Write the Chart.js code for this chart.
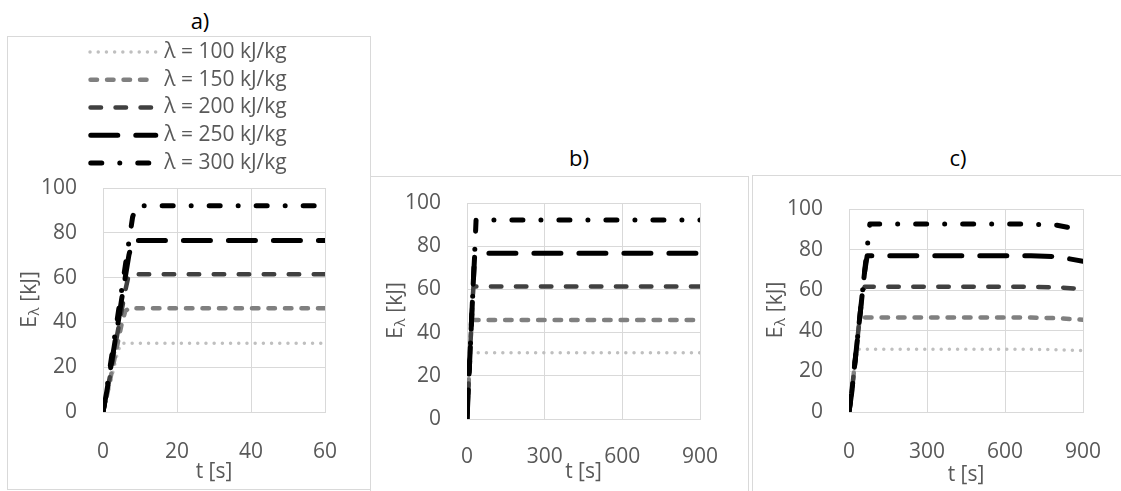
<!DOCTYPE html>
<html>
<head>
<meta charset="utf-8">
<script src="https://cdn.jsdelivr.net/npm/chart.js@4.4.1/dist/chart.umd.min.js"></script>
<style>
  html, body { margin: 0; padding: 0; background: #fff; overflow: hidden; }
  body { width: 1121px; height: 491px; position: relative; font-family: 'Open Sans', sans-serif; }
  .box { position: absolute; border: 1px solid #d9d9d9; box-sizing: border-box; }
  .ttl { position: absolute; transform: translate(-50%, -50%); font-size: 22px; color: #000; white-space: nowrap; }
  canvas { position: absolute; }
</style>
</head>
<body>
<div class="box" style="left:7px;top:36px;width:364px;height:454px"></div>
<div class="box" style="left:370px;top:176px;width:379px;height:330px"></div>
<div class="box" style="left:752px;top:175px;width:420px;height:330px"></div>

<div class="ttl" style="left:200px;top:20px">a)</div>
<div class="ttl" style="left:579px;top:157px">b)</div>
<div class="ttl" style="left:958px;top:157px">c)</div>

<canvas id="chartA" width="361" height="456" style="left:8px;top:33px"></canvas>
<canvas id="chartB" width="376" height="327" style="left:372px;top:164px"></canvas>
<canvas id="chartC" width="380" height="321" style="left:753px;top:170px"></canvas>

<script>
// series labels
const seriesLabels = ['λ = 100 kJ/kg', 'λ = 150 kJ/kg', 'λ = 200 kJ/kg', 'λ = 250 kJ/kg', 'λ = 300 kJ/kg'];
const yTicks = [0, 20, 40, 60, 80, 100];
const xTicksA = [0, 20, 40, 60];
const xTicksBC = [0, 300, 600, 900];
const xTitle = 't [s]';
const yTitle = ['E', 'λ', ' [kJ]']; // E with subscript lambda

// a) t [s] and E [kJ] for each lambda
const tA = [0, 1, 2, 3, 4, 5, 6, 7, 8, 9, 10, 60];
const eA100 = [0, 6, 13, 20, 27, 30.7, 30.7, 30.7, 30.7, 30.7, 30.7, 30.7];
const eA150 = [0, 7, 15, 23, 31, 39, 45, 46.3, 46.3, 46.3, 46.3, 46.3];
const eA200 = [0, 8, 17, 27, 36, 45, 54, 61.5, 61.5, 61.5, 61.5, 61.5];
const eA250 = [0, 9, 19, 29, 39, 50, 60, 70, 76.6, 76.6, 76.6, 76.6];
const eA300 = [0, 10, 21, 32, 43, 54, 65, 76, 87, 92.1, 92.1, 92.1];

// b)
const tB = [0, 5, 10, 15, 20, 25, 30, 35, 900];
const eB100 = [0, 13, 26, 30.7, 30.7, 30.7, 30.7, 30.7, 30.7];
const eB150 = [0, 13, 26, 39, 45.8, 45.8, 45.8, 45.8, 45.8];
const eB200 = [0, 13, 26, 39, 52, 61.3, 61.3, 61.3, 61.3];
const eB250 = [0, 13, 26, 39, 52, 65, 76.7, 76.7, 76.7];
const eB300 = [0, 13, 26, 39, 52, 65, 78, 92.1, 92.1];

// c)
const tC = [0, 10, 20, 30, 40, 50, 60, 70, 80, 700, 800, 900];
const eC100 = [0, 9, 21, 30.9, 30.9, 30.9, 30.9, 30.9, 30.9, 30.9, 30.7, 30.2];
const eC150 = [0, 9, 21, 33, 45, 46.5, 46.5, 46.5, 46.5, 46.5, 46.2, 45.4];
const eC200 = [0, 9, 21, 33, 45, 57, 61.7, 61.7, 61.7, 61.7, 61.4, 60.6];
const eC250 = [0, 9, 21, 33, 45, 57, 69, 77, 77, 77, 76.5, 74.3];
const eC300 = [0, 9, 21, 33, 45, 57, 69, 81, 92.6, 92.6, 92.0, 89.5];

// line looks (excel: sysDot, sysDash, dash, lgDash, lgDashDot)
const lineStyles = [
  { color: '#bfbfbf', width: 3.5, dash: [0, 8.2] },
  { color: '#808080', width: 4.5, dash: [6.5, 10] },
  { color: '#404040', width: 4.5, dash: [10.5, 14.5] },
  { color: '#000000', width: 5, dash: [27, 18] },
  { color: '#000000', width: 5, dash: [11, 18, 0, 18] }
];

const FONT = 'Open Sans';
const TXT = '#595959';
const GRID = '#d9d9d9';

// rotated y title with the subscript
const yTitlePlugin = {
  id: 'yTitle',
  afterDraw(chart, args, opts) {
    const { ctx, chartArea } = chart;
    const x = chartArea.left - opts.offset;
    const y = (chartArea.top + chartArea.bottom) / 2;
    const big = '21px "' + FONT + '"';
    const small = '15px "' + FONT + '"';
    ctx.save();
    ctx.translate(x, y);
    ctx.rotate(-Math.PI / 2);
    ctx.fillStyle = TXT;
    ctx.textAlign = 'left';
    ctx.textBaseline = 'middle';
    ctx.font = big;
    const w0 = ctx.measureText(yTitle[0]).width;
    const w2 = ctx.measureText(yTitle[2]).width;
    ctx.font = small;
    const w1 = ctx.measureText(yTitle[1]).width;
    let cx = -(w0 + w1 + w2) / 2;
    ctx.font = big;
    ctx.fillText(yTitle[0], cx, 0);
    cx += w0;
    ctx.font = small;
    ctx.fillText(yTitle[1], cx + 0.5, 5);
    cx += w1 + 1;
    ctx.font = big;
    ctx.fillText(yTitle[2], cx, 0);
    ctx.restore();
  }
};

// excel style legend: one row per series, line sample + label, rows centred
const lineLegendPlugin = {
  id: 'lineLegend',
  afterDraw(chart, args, opts) {
    if (!opts.show) return;
    const ctx = chart.ctx;
    ctx.save();
    ctx.font = '21px "' + FONT + '"';
    ctx.textBaseline = 'middle';
    ctx.textAlign = 'left';
    chart.data.datasets.forEach((ds, i) => {
      const y = opts.top + i * opts.step;
      const tw = ctx.measureText(ds.label).width;
      const x0 = opts.centerX - (opts.sample + opts.gap + tw) / 2;
      const hw = ds.borderWidth / 2;
      ctx.strokeStyle = ds.borderColor;
      ctx.lineWidth = ds.borderWidth;
      ctx.lineCap = 'round';
      ctx.setLineDash(ds.borderDash);
      ctx.beginPath();
      ctx.moveTo(x0 + hw, y);
      ctx.lineTo(x0 + opts.sample - hw, y);
      ctx.stroke();
      ctx.setLineDash([]);
      ctx.fillStyle = TXT;
      ctx.fillText(ds.label, x0 + opts.sample + opts.gap, y);
    });
    ctx.restore();
  }
};

function buildDatasets(t, series) {
  return series.map((vals, i) => ({
    label: seriesLabels[i],
    data: t.map((x, k) => ({ x: x, y: vals[k] })),
    borderColor: lineStyles[i].color,
    borderWidth: lineStyles[i].width,
    borderDash: lineStyles[i].dash,
    borderCapStyle: 'round',
    borderJoinStyle: 'round',
    pointRadius: 0,
    fill: false,
    tension: 0,
    order: series.length - 1 - i
  }));
}

function makeChart(id, t, series, xTicks, lay) {
  const font = { family: FONT, size: 21 };
  return new Chart(document.getElementById(id), {
    type: 'line',
    data: { datasets: buildDatasets(t, series) },
    plugins: [yTitlePlugin, lineLegendPlugin],
    options: {
      responsive: false,
      animation: false,
      devicePixelRatio: 1,
      layout: { padding: { left: 0, right: lay.padRight, top: lay.padTop, bottom: 0 } },
      plugins: {
        tooltip: { enabled: false },
        legend: { display: false },
        yTitle: { offset: lay.yTitleOffset },
        lineLegend: lay.legend || { show: false }
      },
      scales: {
        x: {
          type: 'linear',
          min: xTicks[0],
          max: xTicks[xTicks.length - 1],
          ticks: { stepSize: xTicks[1] - xTicks[0], padding: lay.xTickPad, color: TXT, font: font, maxRotation: 0 },
          grid: { color: GRID, drawTicks: false },
          border: { color: GRID },
          title: { display: true, text: xTitle, color: TXT, font: font, padding: { top: 0, bottom: lay.xTitlePad } },
          afterFit: s => { s.height = lay.xHeight; }
        },
        y: {
          min: yTicks[0],
          max: yTicks[yTicks.length - 1],
          ticks: { stepSize: yTicks[1] - yTicks[0], padding: 26, color: TXT, font: font },
          grid: { color: GRID, drawTicks: false },
          border: { color: GRID },
          afterFit: s => { s.width = lay.yWidth; }
        }
      }
    }
  });
}

makeChart('chartA', tA, [eA100, eA150, eA200, eA250, eA300], xTicksA, {
  padRight: 44, padTop: 155, yWidth: 95, xHeight: 77, xTickPad: 27, xTitlePad: 4.4, yTitleOffset: 73,
  legend: { show: true, centerX: 179.5, top: 19, step: 27.75, sample: 70, gap: 6 }
});
makeChart('chartB', tB, [eB100, eB150, eB200, eB250, eB300], xTicksBC, {
  padRight: 48, padTop: 39, yWidth: 95, xHeight: 72, xTickPad: 25, xTitlePad: 6.4, yTitleOffset: 71
});
makeChart('chartC', tC, [eC100, eC150, eC200, eC250, eC300], xTicksBC, {
  padRight: 50, padTop: 39, yWidth: 96, xHeight: 79, xTickPad: 27, xTitlePad: 3.4, yTitleOffset: 73
});
</script>
</body>
</html>
